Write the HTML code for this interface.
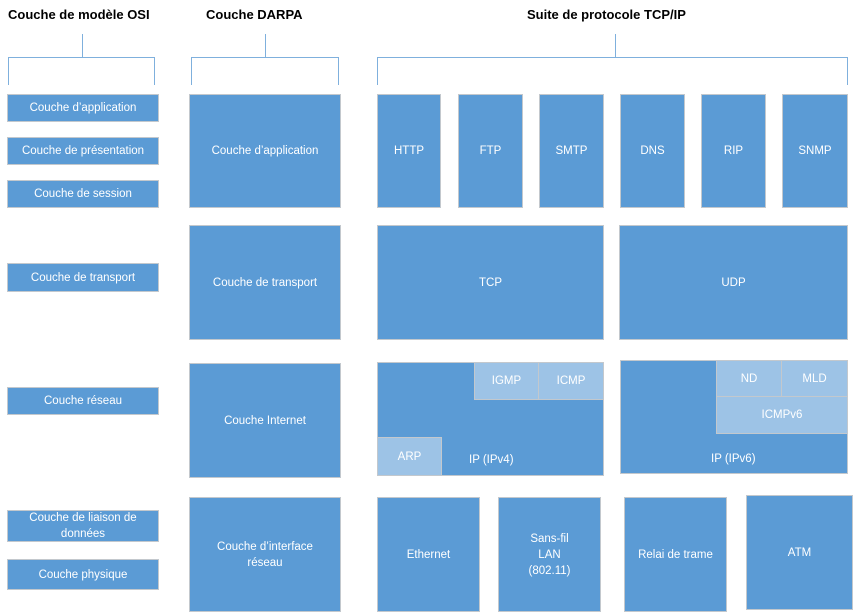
<!DOCTYPE html>
<html><head><meta charset="utf-8"><style>
body{margin:0;width:855px;height:614px;background:#fff;position:relative;overflow:hidden;font-family:"Liberation Sans",sans-serif}
.b{position:absolute;background:#5b9bd5;border:1px solid #c3c8cd;box-sizing:border-box;color:#fff;font-size:11.5px;display:flex;align-items:center;justify-content:center;text-align:center;line-height:16px}
.l{background:#9dc3e6}
.t{position:absolute;font-weight:bold;font-size:13px;color:#000;top:7px}
.ln{position:absolute;background:#7fb0dd}
.lab{position:absolute;color:#fff;font-size:11.5px}
</style></head><body>
<div class="t" style="left:8px">Couche de modèle OSI</div>
<div class="t" style="left:206px">Couche DARPA</div>
<div class="t" style="left:527px">Suite de protocole TCP/IP</div>

<div class="ln" style="left:82px;top:34px;width:1px;height:23px"></div>
<div class="ln" style="left:8px;top:57px;width:147px;height:1px"></div>
<div class="ln" style="left:8px;top:57px;width:1px;height:28px"></div>
<div class="ln" style="left:154px;top:57px;width:1px;height:28px"></div>

<div class="ln" style="left:265px;top:34px;width:1px;height:23px"></div>
<div class="ln" style="left:191px;top:57px;width:148px;height:1px"></div>
<div class="ln" style="left:191px;top:57px;width:1px;height:28px"></div>
<div class="ln" style="left:338px;top:57px;width:1px;height:28px"></div>

<div class="ln" style="left:615px;top:34px;width:1px;height:23px"></div>
<div class="ln" style="left:377px;top:57px;width:471px;height:1px"></div>
<div class="ln" style="left:377px;top:57px;width:1px;height:28px"></div>
<div class="ln" style="left:847px;top:57px;width:1px;height:28px"></div>

<div class="b" style="left:7px;top:94px;width:152px;height:28px">Couche d’application</div>
<div class="b" style="left:7px;top:137px;width:152px;height:28px">Couche de présentation</div>
<div class="b" style="left:7px;top:180px;width:152px;height:28px">Couche de session</div>
<div class="b" style="left:7px;top:263px;width:152px;height:29px">Couche de transport</div>
<div class="b" style="left:7px;top:387px;width:152px;height:28px">Couche réseau</div>
<div class="b" style="left:7px;top:510px;width:152px;height:32px">Couche de liaison de<br>données</div>
<div class="b" style="left:7px;top:559px;width:152px;height:31px">Couche physique</div>

<div class="b" style="left:189px;top:94px;width:152px;height:114px">Couche d’application</div>
<div class="b" style="left:189px;top:225px;width:152px;height:115px">Couche de transport</div>
<div class="b" style="left:189px;top:363px;width:152px;height:115px">Couche Internet</div>
<div class="b" style="left:189px;top:497px;width:152px;height:115px">Couche d’interface<br>réseau</div>

<div class="b" style="left:377px;top:94px;width:64px;height:114px">HTTP</div>
<div class="b" style="left:458px;top:94px;width:65px;height:114px">FTP</div>
<div class="b" style="left:539px;top:94px;width:65px;height:114px">SMTP</div>
<div class="b" style="left:620px;top:94px;width:65px;height:114px">DNS</div>
<div class="b" style="left:701px;top:94px;width:65px;height:114px">RIP</div>
<div class="b" style="left:782px;top:94px;width:66px;height:114px">SNMP</div>

<div class="b" style="left:377px;top:225px;width:227px;height:115px">TCP</div>
<div class="b" style="left:619px;top:225px;width:229px;height:115px">UDP</div>

<div class="b" style="left:377px;top:362px;width:227px;height:114px"></div>
<div class="lab" style="left:469px;top:454px">IP (IPv4)</div>
<div class="b l" style="left:474px;top:362px;width:65px;height:38px">IGMP</div>
<div class="b l" style="left:538px;top:362px;width:66px;height:38px">ICMP</div>
<div class="b l" style="left:377px;top:437px;width:65px;height:39px">ARP</div>

<div class="b" style="left:620px;top:360px;width:228px;height:114px"></div>
<div class="lab" style="left:711px;top:453px">IP (IPv6)</div>
<div class="b l" style="left:716px;top:360px;width:66px;height:37px">ND</div>
<div class="b l" style="left:781px;top:360px;width:67px;height:37px">MLD</div>
<div class="b l" style="left:716px;top:396px;width:132px;height:38px">ICMPv6</div>

<div class="b" style="left:377px;top:497px;width:103px;height:115px">Ethernet</div>
<div class="b" style="left:498px;top:497px;width:103px;height:115px">Sans-fil<br>LAN<br>(802.11)</div>
<div class="b" style="left:624px;top:497px;width:103px;height:115px">Relai de trame</div>
<div class="b" style="left:746px;top:495px;width:107px;height:115px">ATM</div>
</body></html>
